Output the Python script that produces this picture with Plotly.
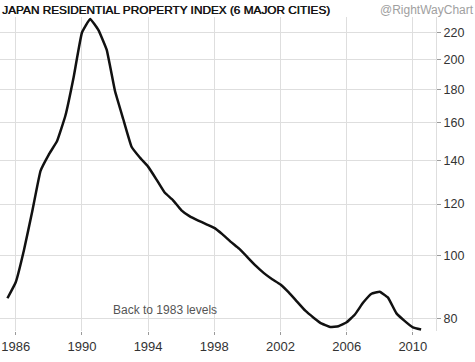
import math
import plotly.graph_objects as go

years = [1985.5, 1986.0, 1986.5, 1987.0, 1987.5, 1988.0, 1988.5, 1989.0, 1989.5,
         1990.0, 1990.5, 1991.0, 1991.5, 1992.0, 1992.5, 1993.0, 1993.5, 1994.0,
         1994.5, 1995.0, 1995.5, 1996.0, 1996.5, 1997.0, 1997.5, 1998.0, 1998.5,
         1999.0, 1999.5, 2000.0, 2000.5, 2001.0, 2001.5, 2002.0, 2002.5, 2003.0,
         2003.5, 2004.0, 2004.5, 2005.0, 2005.5, 2006.0, 2006.5, 2007.0, 2007.5,
         2008.0, 2008.5, 2009.0, 2009.5, 2010.0, 2010.5]
index_values = [86, 91, 102, 117, 135, 143, 150, 164, 188,
                220, 231, 222, 207, 179, 162, 147, 141.5, 137,
                131, 125, 121.7, 117.5, 115, 113.3, 111.8, 110.3, 107.8,
                105, 102.5, 99.5, 96.5, 94, 92, 90.3, 87.8, 85,
                82.3, 80.3, 78.6, 77.7, 77.9, 79, 81.2, 84.7, 87.4,
                88, 86.2, 81.6, 79.4, 77.6, 77.0]
x_ticks = [1986, 1990, 1994, 1998, 2002, 2006, 2010]
y_ticks = [80, 100, 120, 140, 160, 180, 200, 220]
level_1983 = 76.6

fig = go.Figure()
fig.add_trace(go.Scatter(x=years, y=index_values, mode="lines",
                         line=dict(color="#111111", width=2.5, shape="spline", smoothing=0.3),
                         hoverinfo="skip", showlegend=False))

fig.add_shape(type="line", xref="paper", yref="y", x0=0, x1=1,
              y0=math.log10(level_1983), y1=math.log10(level_1983),
              line=dict(color="#9a9a9a", width=2.5, dash="dot"), layer="above")

fig.add_annotation(x=1995.0, y=math.log10(82.4), xref="x", yref="y",
                   text="Back to 1983 levels", showarrow=False,
                   font=dict(family="Liberation Sans, Arial", size=12, color="#555555"))

fig.add_annotation(x=0.0, y=1, xref="paper", yref="paper", xanchor="left", yanchor="bottom",
                   text="JAPAN RESIDENTIAL PROPERTY INDEX (6 MAJOR CITIES)", showarrow=False,
                   yshift=-1, xshift=1, borderpad=0,
                   font=dict(family="Liberation Sans, Arial", size=11.8, color="#111111",
                             shadow="0.5px 0px 0px #111111"))
fig.add_annotation(x=1.0, y=1, xref="paper", yref="paper", xanchor="right", yanchor="bottom",
                   text="@RightWayChart", showarrow=False, yshift=-1, xshift=39, borderpad=0,
                   font=dict(family="Liberation Sans, Arial", size=12, color="#a0a0a0"))

fig.update_layout(
    width=475, height=362,
    margin=dict(l=0, r=39, t=17, b=31),
    paper_bgcolor="white", plot_bgcolor="white",
    xaxis=dict(range=[1985.05, 2011.4], tickvals=x_ticks, ticktext=[str(v) for v in x_ticks],
               showgrid=True, gridcolor="#dedede", gridwidth=1, zeroline=False,
               ticks="outside", ticklen=3, tickcolor="#9a9a9a",
               tickfont=dict(family="Liberation Sans, Arial", size=13, color="#333333"),
               showline=False),
    yaxis=dict(type="log", range=[math.log10(76.6), math.log10(232.6)], side="right",
               tickvals=y_ticks, ticktext=[str(v) for v in y_ticks],
               showgrid=True, gridcolor="#dedede", gridwidth=1, zeroline=False,
               ticks="outside", ticklen=4, tickcolor="#9a9a9a",
               tickfont=dict(family="Liberation Sans, Arial", size=12.5, color="#333333"),
               showline=True, linecolor="#dedede", linewidth=1),
)

fig.write_html("out.html")
